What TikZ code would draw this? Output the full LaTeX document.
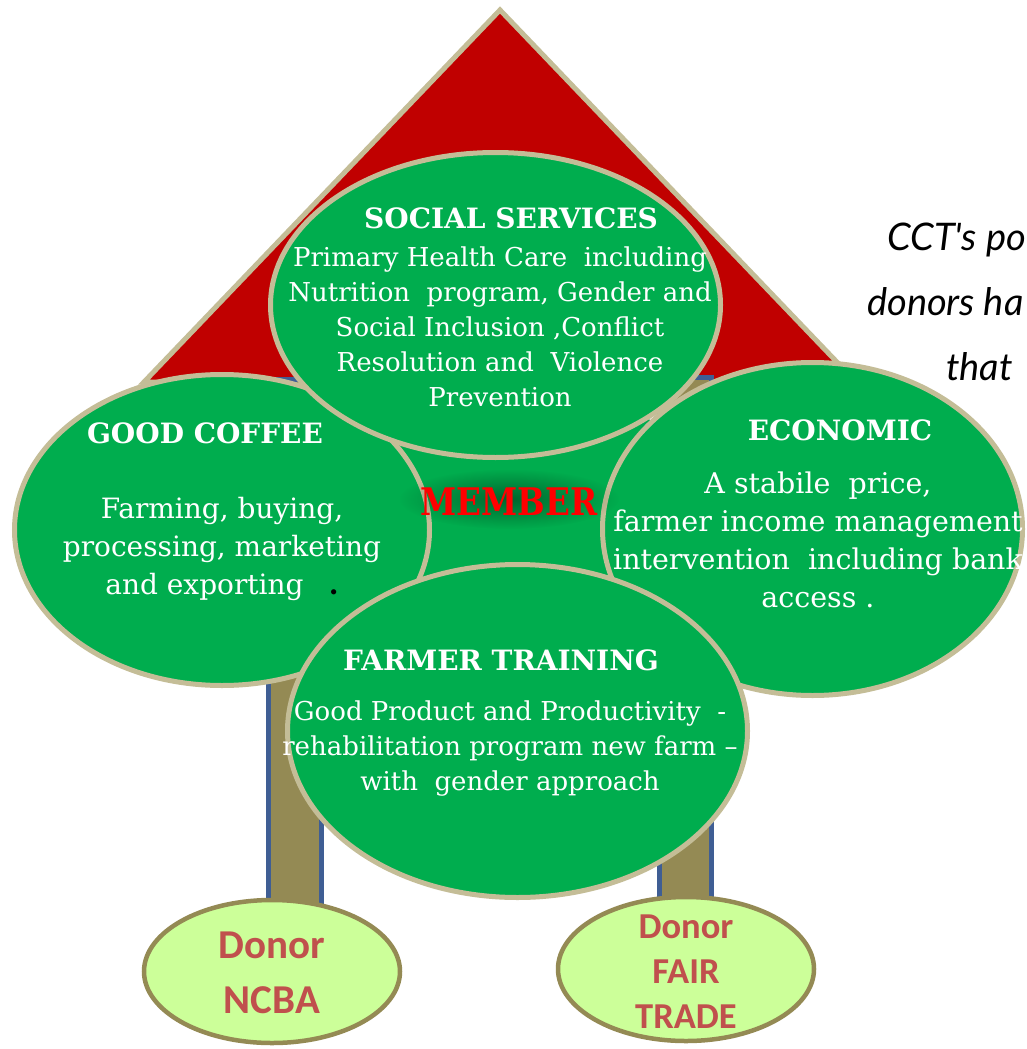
\documentclass[tikz,border=0pt]{standalone}
\usepackage{fontspec}
\usetikzlibrary{fadings}
\setmainfont{DejaVu Serif}
\newfontfamily\gothic{Lato}
\newfontfamily\calib{Carlito}
\newfontfamily\memberfont[FakeStretch=0.86]{DejaVu Serif}
\definecolor{bubgreen}{HTML}{00AD4E}
\definecolor{tanline}{HTML}{C4BD97}
\definecolor{rooftop}{HTML}{C00000}
\definecolor{trunk}{HTML}{948A54}
\definecolor{trunkedge}{HTML}{3F5E94}
\definecolor{donorfill}{HTML}{CCFF99}
\definecolor{donortext}{HTML}{C0504D}
\definecolor{memberred}{HTML}{FF0000}
\tikzfading[name=softglow, inner color=transparent!10, outer color=transparent!100]
\tikzset{
  bubble/.style={draw=tanline, line width=5pt, fill=bubgreen},
  pillar/.style={draw=trunkedge, line width=5pt, fill=trunk},
  donor/.style={draw=trunk, line width=4.5pt, fill=donorfill},
  head/.style={text=white, font=\bfseries\fontsize{28}{32}\selectfont, inner sep=0pt},
  body/.style={text=white, align=center, inner sep=0pt},
  donortxt/.style={text=donortext, align=center, inner sep=0pt},
  side/.style={anchor=base west, inner sep=0pt, font=\gothic\itshape\fontsize{38}{40}\selectfont}
}
\begin{document}
\begin{tikzpicture}[x=1pt,y=-1pt]
\useasboundingbox (0,0) rectangle (1027,1049);
\clip (0,0) rectangle (1027,1049);
\fill[white] (0,0) rectangle (1027,1049);
% roof
\draw[draw=tanline, line width=5pt, fill=rooftop, line join=miter] (500,10) -- (856,382) -- (144,382) -- cycle;
% trunks
\draw[pillar] (268.5,379) rectangle (321.5,910);
\draw[pillar] (659.5,377) rectangle (711,910);
% green core behind the bubbles
\fill[bubgreen] (512,500) ellipse [x radius=175pt, y radius=130pt];
% bubbles
\draw[bubble] (222,530) ellipse [x radius=207.5pt, y radius=155.5pt];
\draw[bubble] (495.5,305) ellipse [x radius=225pt, y radius=152.5pt];
\draw[bubble] (812.5,529) ellipse [x radius=210pt, y radius=166.5pt];
\draw[bubble] (517.5,731) ellipse [x radius=230pt, y radius=166.5pt];
% donors
\draw[donor] (272,971.5) ellipse [x radius=128pt, y radius=71.5pt];
\draw[donor] (686,969) ellipse [x radius=128pt, y radius=72pt];
% texts
\node[head] (socH) at (511,218) {SOCIAL SERVICES};
\node[body, font=\fontsize{26}{35}\selectfont] (socB) at (500,327)
  {Primary Health Care\ \ including\\Nutrition\ \ program, Gender and\\Social Inclusion ,Conflict\\Resolution and\ \ Violence\\Prevention};
\node[head] (cofH) at (205,433) {GOOD COFFEE};
\node[body, font=\fontsize{28}{38}\selectfont] (cofB) at (222,549)
  {Farming, buying,\\processing, marketing\\and exporting\hspace{0.9em}\textcolor{black}{\textbf{.}}};
\node[head] (ecoH) at (840,430) {ECONOMIC};
\node[body, font=\fontsize{28.5}{38}\selectfont] (ecoB) at (818,540)
  {A stabile\ \ price,\\farmer income management\\intervention\ \ including bank\\access .};
\node[head] (farH) at (501,660) {FARMER TRAINING};
\node[body, font=\fontsize{26}{35}\selectfont] (farB) at (510,749)
  {Good Product and Productivity\ \ -\\rehabilitation program new farm --\\with\ \ gender approach};
% member with soft dark glow
\fill[black, opacity=0.45, path fading=softglow] (509,499) ellipse [x radius=110pt, y radius=30pt];
\node[text=memberred, font=\memberfont\bfseries\fontsize{38}{40}\selectfont, inner sep=0pt] (mem) at (509,502) {MEMBER};
% donor texts
\node[donortxt, font=\calib\bfseries\fontsize{41}{55}\selectfont] (ncba) at (272,973) {Donor\\NCBA};
\node[donortxt, font=\calib\bfseries\fontsize{36.5}{45}\selectfont] (fair) at (686,972) {Donor\\FAIR\\TRADE};
% side text
\node[side] (s1) at (887,250) {CCT's po};
\node[side] (s2) at (867,315) {donors ha};
\node[side] (s3) at (946,380) {that};
\end{tikzpicture}
\end{document}
